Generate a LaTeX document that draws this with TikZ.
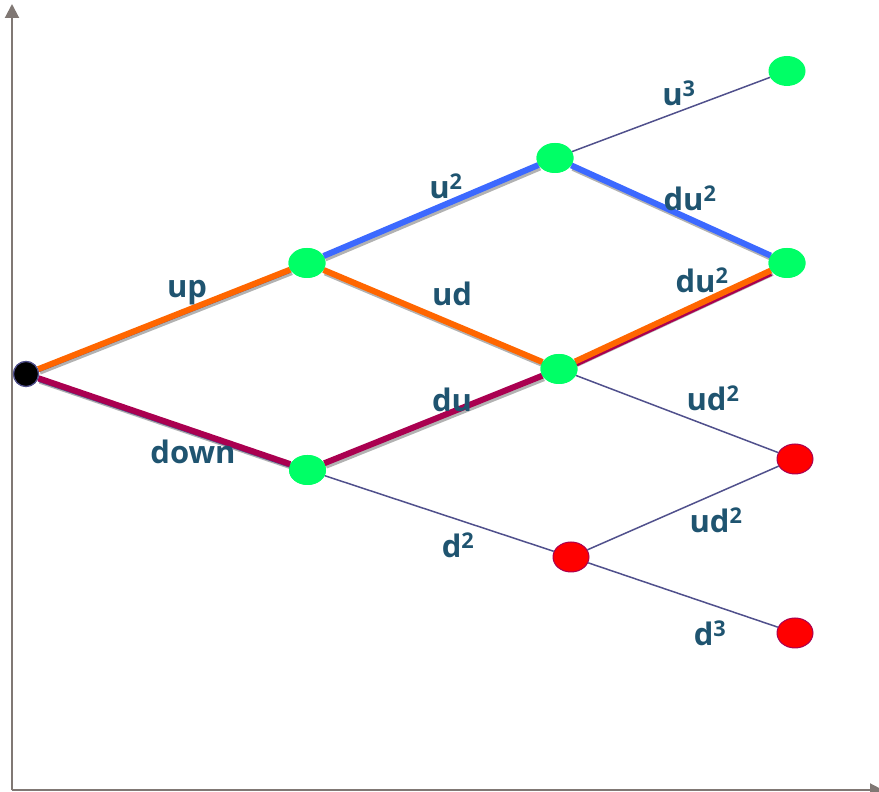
\documentclass[tikz,border=0pt]{standalone}
\usepackage{fontspec}
\setmainfont{Open Sans}
\usetikzlibrary{shapes.geometric,arrows.meta}
\definecolor{lbl}{RGB}{31,84,112}
\definecolor{thin}{RGB}{80,80,140}
\definecolor{ora}{RGB}{255,102,0}
\definecolor{blu}{RGB}{60,105,255}
\definecolor{crim}{RGB}{170,0,80}
\definecolor{grn}{RGB}{0,255,102}
\definecolor{axc}{RGB}{128,120,116}
\tikzset{
  gnode/.style={ellipse,fill=grn,minimum width=37pt,minimum height=30pt,inner sep=0pt},
  rnode/.style={ellipse,fill=red,draw=crim,line width=1pt,minimum width=36pt,minimum height=30pt,inner sep=0pt},
  knode/.style={circle,fill=black,draw=thin,line width=1.2pt,minimum size=25pt,inner sep=0pt},
  thinedge/.style={draw=thin,line width=1.5pt},
  thickedge/.style={line width=6pt},
  shadowedge/.style={line width=6pt,draw=black,opacity=0.3,transform canvas={shift={(1.5pt,-2.5pt)}}},
  lab/.style={text=lbl,font=\bfseries\fontsize{31}{35}\selectfont,inner sep=0pt},
  axis/.style={draw=axc,line width=2pt}
}
\begin{document}
\begin{tikzpicture}[x=1pt,y=1pt]
\useasboundingbox (0,0) rectangle (879,792);
% axes
\coordinate (o) at (12,1.5);
\coordinate (yt) at (12,788);
\coordinate (xt) at (884,1.5);
\draw[axis,-{Triangle[width=14pt,length=14pt]}] (o) -- (yt);
\draw[axis,-{Triangle[width=14pt,length=14pt]}] (o) -- (xt);
% nodes
\node[knode] (r) at (26,418) {};
\node[gnode] (a) at (307,529) {};
\node[gnode] (b) at (307.5,322) {};
\node[gnode] (c) at (555,634) {};
\node[gnode] (d) at (559,423) {};
\node[rnode] (e) at (571,235) {};
\node[gnode] (f) at (787,721) {};
\node[gnode] (g) at (787,529) {};
\node[rnode] (h) at (795,333) {};
\node[rnode] (i) at (795,159) {};
% thin edges
\draw[thinedge] (c) -- (f);
\draw[thinedge] (d) -- (h);
\draw[thinedge] (b) -- (e);
\draw[thinedge] (e) -- (h);
\draw[thinedge] (e) -- (i);
% shadows
\draw[shadowedge] (r) -- (a);
\draw[shadowedge] (r) -- (b);
\draw[shadowedge] (a) -- (c);
\draw[shadowedge] (a) -- (d);
\draw[shadowedge] (b) -- (d);
\draw[shadowedge] (c) -- (g);
\draw[shadowedge] (d) -- (g);
% thick edges
\draw[thinedge,transform canvas={shift={(0pt,-2.5pt)}}] (r) -- (a);
\draw[thickedge,draw=ora] (r) -- (a);
\draw[thinedge,transform canvas={shift={(0pt,-3pt)}}] (r) -- (b);
\draw[thickedge,draw=crim] (r) -- (b);
\draw[thickedge,draw=blu] (a) -- (c);
\draw[thickedge,draw=ora] (a) -- (d);
\draw[thickedge,draw=crim] (b) -- (d);
\draw[thickedge,draw=blu] (c) -- (g);
\draw[thickedge,draw=crim,transform canvas={shift={(0pt,-2.5pt)}}] (d) -- (g);
\draw[thickedge,draw=ora] (d) -- (g);
% redraw nodes on top
\node[knode] at (r) {};
\node[gnode] at (a) {};
\node[gnode] at (b) {};
\node[gnode] at (c) {};
\node[gnode] at (d) {};
\node[gnode] at (g) {};
% labels
\node[lab] (l1) at (187,499) {up};
\node[lab] (l2) at (193,340) {down};
\node[lab] (l3) at (446,606) {u\textsuperscript{2}};
\node[lab] (l4) at (452,498) {ud};
\node[lab] (l5) at (452,392) {du};
\node[lab] (l6) at (458,247) {d\textsuperscript{2}};
\node[lab] (l7) at (679,699) {u\textsuperscript{3}};
\node[lab] (l8) at (690,594) {du\textsuperscript{2}};
\node[lab] (l9) at (702,512) {du\textsuperscript{2}};
\node[lab] (l10) at (713,394) {ud\textsuperscript{2}};
\node[lab] (l11) at (716,272) {ud\textsuperscript{2}};
\node[lab] (l12) at (710,159) {d\textsuperscript{3}};
\end{tikzpicture}
\end{document}
